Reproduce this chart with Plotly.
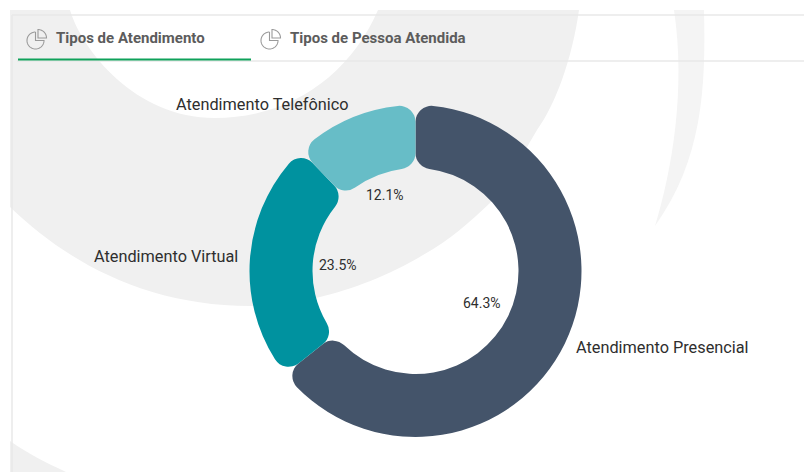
import math
import plotly.graph_objects as go

# ---- data ----
categories = ["Atendimento Presencial", "Atendimento Virtual", "Atendimento Telefônico"]
percentages = [64.3, 23.5, 12.1]
tab_labels = ["Tipos de Atendimento", "Tipos de Pessoa Atendida"]

# ---- styles ----
slice_colors = ["#44546a", "#00929f", "#67bdc7"]
pct_radii = [74, 78, 82]
CX, CY, R_OUT, R_IN = 415.5, 271, 166, 103
LABEL_R = 178
W, H = 804, 472
GRAY = "#f0f0f0"
LINE = "#e9e9e9"


def shape_path(d, **kw):
    base = dict(type="path", path=d, xref="x", yref="y", layer="below")
    base.update(kw)
    return base


def icon_paths(cx, cy):
    """pie-chart tab icon as polylines"""
    r = 8.5
    pts = []
    for i in range(0, 46):
        a = math.radians(0 + i * 6)
        pts.append((cx + r * math.sin(a + math.pi / 2), cy - r * math.cos(a + math.pi / 2)))
    main = f"M{cx},{cy - r} L{cx},{cy} L{cx + r},{cy} " + " ".join(f"L{x:.2f},{y:.2f}" for x, y in pts)
    main += f" L{cx},{cy - r}"
    q = []
    ox, oy = cx + 2.5, cy - 2.5
    for i in range(0, 16):
        a = math.radians(i * 6)
        q.append((ox + r * math.sin(a), oy - r * math.cos(a)))
    small = f"M{ox},{oy} L{ox},{oy - r} " + " ".join(f"L{x:.2f},{y:.2f}" for x, y in q) + " Z"
    return main, small


shapes = [
    # big swoosh behind the donut
    shape_path(
        "M10,10 L70,10 C82,50 135,118 215,118 C290,118 350,75 378,10 L579,10 "
        "C572,60 555,105 537,130 C522,155 508,185 490,203 C470,222 450,240 423,255 "
        "C390,275 350,290 320,297 C295,303 275,306 250,306 C150,306 70,265 10,207 Z",
        fillcolor=GRAY, line_width=0),
    # right crescent
    shape_path(
        "M674,10 L704,10 C706,90 702,160 655,226 C672,170 686,90 674,10 Z",
        fillcolor="#f4f4f4", line_width=0),
    # bottom-left corner
    shape_path("M10,441 C30,455 45,462 66,472 L10,472 Z", fillcolor=GRAY, line_width=0),
    # card borders
    shape_path("M12,15 L804,15", line=dict(color=LINE, width=1.5)),
    shape_path("M12,15 L12,472", line=dict(color=LINE, width=1.5)),
    shape_path("M17,61 L804,61", line=dict(color=LINE, width=1.5)),
    shape_path("M18,59.5 L251,59.5", line=dict(color="#0fa15a", width=2)),
]
for icx in (35.5, 269.5):
    for d in icon_paths(icx, 40.5):
        shapes.append(shape_path(d, line=dict(color="#9a9a9a", width=1.1)))

annotations = []
for text, x in zip(tab_labels, (54, 288)):
    annotations.append(dict(
        x=x, y=37.5, xref="x", yref="y", text=text, showarrow=False, xanchor="left", yanchor="middle",
        font=dict(family="Roboto", size=15, color="#5c5c5c", weight=700)))

total = sum(percentages)
cum = 0.0
for name, val, pr in zip(categories, percentages, pct_radii):
    mid = (cum + val / 2) / total * 2 * math.pi
    cum += val
    sx, cy_ = math.sin(mid), -math.cos(mid)
    annotations.append(dict(
        x=CX + LABEL_R * sx + (-2 if sx > 0 else 2), y=CY + LABEL_R * cy_ - 1.5, xref="x", yref="y",
        text=name, showarrow=False,
        xanchor="left" if sx > 0 else "right", yanchor="middle",
        font=dict(family="Roboto", size=16.3, color="#2e2e2e")))
    annotations.append(dict(
        x=CX + pr * sx, y=CY + pr * cy_, xref="x", yref="y", text=f"{val:.1f}%", showarrow=False,
        xanchor="center", yanchor="middle",
        font=dict(family="Roboto", size=14, color="#2e2e2e")))

fig = go.Figure(go.Pie(
    labels=categories, values=percentages, sort=False, direction="clockwise", rotation=0,
    hole=R_IN / R_OUT, textinfo="none", showlegend=False,
    marker=dict(colors=slice_colors, line=dict(width=0)),
    domain=dict(x=[(CX - R_OUT) / W, (CX + R_OUT) / W], y=[1 - (CY + R_OUT) / H, 1 - (CY - R_OUT) / H]),
))
fig.update_layout(
    width=W, height=H, margin=dict(l=0, r=0, t=0, b=0), paper_bgcolor="white", plot_bgcolor="rgba(0,0,0,0)",
    xaxis=dict(range=[0, W], visible=False, fixedrange=True),
    yaxis=dict(range=[H, 0], visible=False, fixedrange=True),
    shapes=shapes, annotations=annotations, showlegend=False,
    font=dict(family="Roboto"),
)

# Pie slices have no corner-radius option: re-draw each slice's outline with rounded corners,
# using the geometry Plotly itself computed from the values.
post = r"""
document.body.style.margin = '0';
document.body.style.overflow = 'hidden';
var gd = document.getElementsByClassName('plotly-graph-div')[0];
var RC = 16;
function roundSlices() {
  var cd = gd.calcdata[0], c0 = cd[0], hole = gd._fullData[0].hole, R = c0.r, r = R * hole;
  var paths = gd.querySelectorAll('g.slice path.surface');
  paths.forEach(function (p, i) {
    var pt = cd[i];
    var nums = p.getAttribute('d').match(/-?\d*\.?\d+(?:e-?\d+)?/g).map(Number);
    var off = [0, 0];
    var d0 = Math.hypot(nums[0], nums[1]);
    if (Math.abs(d0 - R) > 2 && Math.abs(d0 - r) > 2) off = [c0.cx, c0.cy];
    var a0 = Math.atan2(pt.px0[1], pt.px0[0]), a1 = Math.atan2(pt.px1[1], pt.px1[0]);
    while (a1 <= a0) a1 += 2 * Math.PI;
    var dO = Math.asin(RC / (R - RC)), dI = Math.asin(RC / (r + RC));
    var lO = Math.sqrt((R - RC) * (R - RC) - RC * RC), lI = Math.sqrt((r + RC) * (r + RC) - RC * RC);
    function P(d, a) { return (off[0] + d * Math.cos(a)).toFixed(2) + ' ' + (off[1] + d * Math.sin(a)).toFixed(2); }
    function A(rad, big, sw, d, a) { return ' A' + rad + ' ' + rad + ' 0 ' + big + ' ' + sw + ' ' + P(d, a); }
    var bigO = (a1 - a0 - 2 * dO) > Math.PI ? 1 : 0, bigI = (a1 - a0 - 2 * dI) > Math.PI ? 1 : 0;
    var s = 'M' + P(R, a0 + dO) +
      A(R, bigO, 1, R, a1 - dO) + A(RC, 0, 1, lO, a1) + ' L' + P(lI, a1) +
      A(RC, 0, 1, r, a1 - dI) + A(r, bigI, 0, r, a0 + dI) + A(RC, 0, 1, lI, a0) +
      ' L' + P(lO, a0) + A(RC, 0, 1, R, a0 + dO) + ' Z';
    p.setAttribute('d', s);
  });
}
roundSlices();
"""
fig.write_html("out.html", post_script=post, config={"displayModeBar": False})
